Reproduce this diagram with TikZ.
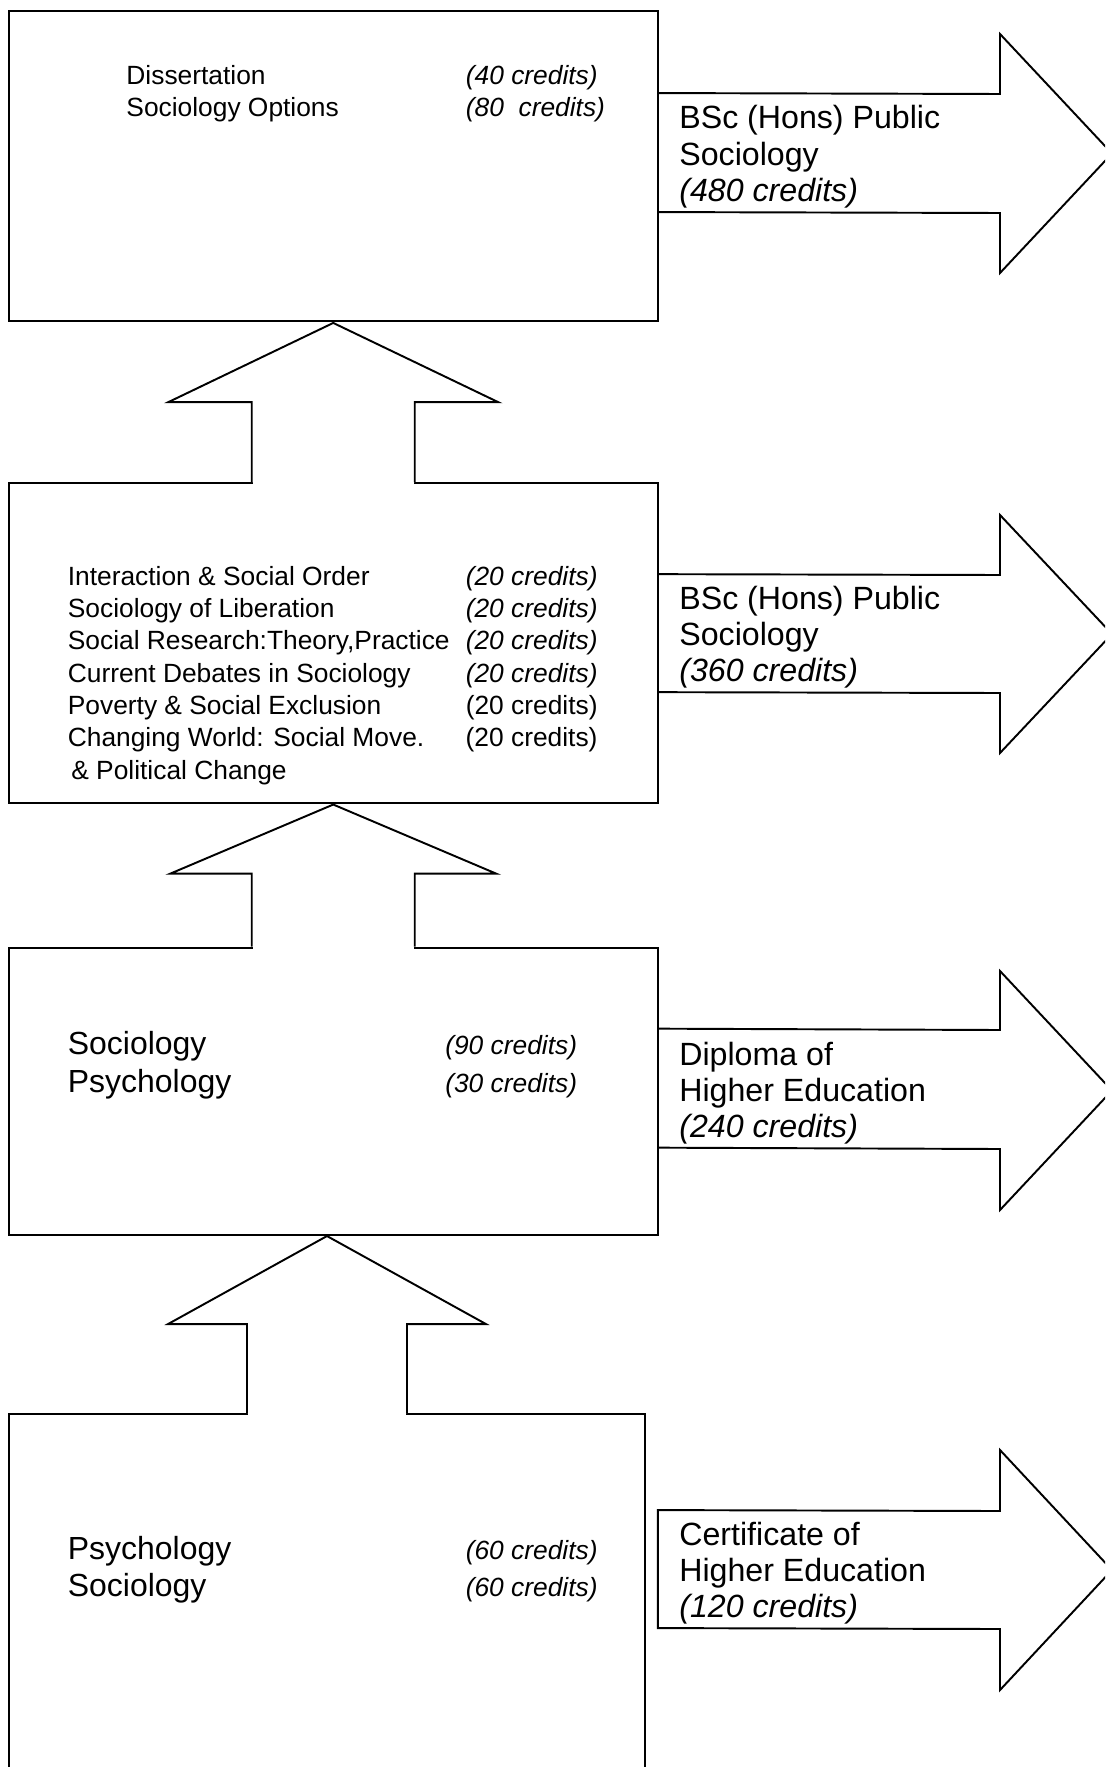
\documentclass[tikz,border=0pt]{standalone}
\usepackage{fontspec}
\setmainfont{Liberation Sans}
\usetikzlibrary{calc}

\newcommand{\credsz}{\fontsize{15}{18.4}\selectfont}

\begin{document}
\begin{tikzpicture}[x=0.02cm, y=-0.02cm]

    \tikzstyle{box}=[draw=black, line width=1.1pt, rectangle, inner sep=0pt];
    \tikzstyle{blk}=[draw=black, line width=1.1pt, line join=miter];
    \tikzstyle{uparr}=[blk, fill=white];
    \tikzstyle{txt}=[inner sep=0pt, anchor=base west, font=\fontsize{15}{18.4}\selectfont];
    \tikzstyle{bigtxt}=[inner sep=0pt, anchor=base west, font=\fontsize{18.2}{21.4}\selectfont];
    \tikzstyle{lbl}=[inner sep=0pt, anchor=base west, font=\fontsize{18.3}{20.7}\selectfont];

    \useasboundingbox (0,0) rectangle (1105,1767);
    \clip (0,0) rectangle (1105,1767);

    \node[box, minimum width=12.99cm, minimum height=6.2cm] (hons) at (333.25,166) {};
    \node[box, minimum width=12.99cm, minimum height=6.39cm] (ord) at (333.25,642.85) {};
    \node[box, minimum width=12.99cm, minimum height=5.75cm] (dip) at (333.25,1091.35) {};
    \node[box, minimum width=12.72cm, minimum height=7.72cm] (cert) at (327,1607) {};

    % arrows up, opening into the box below
    \fill[white] ($(ord.north)+(-80.5,-3)$) rectangle ($(ord.north)+(80.5,3)$);
    \fill[white] ($(dip.north)+(-80.5,-3)$) rectangle ($(dip.north)+(80.5,3)$);
    \fill[white] ($(cert.north)+(-79,-3)$) rectangle ($(cert.north)+(79,3)$);
    \draw[uparr] ($(ord.north)+(-81.5,0)$) -- ($(ord.north)+(-81.5,-80)$) -- ($(ord.north)+(-165,-80)$)
        -- ($(hons.south)+(0,1)$) -- ($(ord.north)+(165,-80)$) -- ($(ord.north)+(81.5,-80)$) -- ($(ord.north)+(81.5,0)$);
    \draw[uparr] ($(dip.north)+(-81.5,0)$) -- ($(dip.north)+(-81.5,-73)$) -- ($(dip.north)+(-163,-73)$)
        -- ($(ord.south)+(0,1)$) -- ($(dip.north)+(163,-73)$) -- ($(dip.north)+(81.5,-73)$) -- ($(dip.north)+(81.5,0)$);
    \draw[uparr] ($(cert.north)+(-80,0)$) -- ($(cert.north)+(-80,-89)$) -- ($(cert.north)+(-159,-89)$)
        -- (cert.north |- dip.south) -- ($(cert.north)+(159,-89)$) -- ($(cert.north)+(80,-89)$) -- ($(cert.north)+(80,0)$);

    % arrows right
    \draw[blk] ($(hons.north east)+(0,83)$) -- (1000,94) -- (1000,34) -- (1112,153.5) -- (1000,273) -- (1000,213) -- ($(hons.north east)+(0,202)$);
    \draw[blk] ($(ord.north east)+(0,92)$) -- (1000,575) -- (1000,515) -- (1112,634) -- (1000,753) -- (1000,693) -- ($(ord.north east)+(0,210)$);
    \draw[blk] ($(dip.north east)+(0,82)$) -- (1000,1030) -- (1000,971) -- (1112,1090.5) -- (1000,1210) -- (1000,1149) -- ($(dip.north east)+(0,201)$);
    \draw[blk] ($(cert.north east)+(12,97)$) -- (1000,1511) -- (1000,1450) -- (1112,1570) -- (1000,1690) -- (1000,1629) -- ($(cert.north east)+(12,215)$) -- cycle;

    \node[txt] (honsmods) at ($(hons.north west)+(118.5,74)$) {\begin{tabular}[t]{@{}p{6.79cm}@{}l@{}}
        Dissertation & \textit{(40 credits)}\\
        Sociology Options & \textit{(80\ \ credits)}
    \end{tabular}};
    \node[txt] (ordmods) at ($(ord.north west)+(59.9,103)$) {\begin{tabular}[t]{@{}p{7.96cm}@{}l@{}}
        Interaction \& Social Order & \textit{(20 credits)}\\
        Sociology of Liberation & \textit{(20 credits)}\\
        Social Research:Theory,Practice & \textit{(20 credits)}\\
        Current Debates in Sociology & \textit{(20 credits)}\\
        Poverty \& Social Exclusion & (20 credits)\\
        Changing World: Social Move. & (20 credits)\\
        \hspace{0.07cm}\& Political Change &
    \end{tabular}};
    \node[bigtxt] (dipmods) at ($(dip.north west)+(59.9,108.3)$) {\begin{tabular}[t]{@{}p{7.55cm}@{}l@{}}
        Sociology & {\credsz\textit{(90 credits)}}\\
        Psychology & {\credsz\textit{(30 credits)}}
    \end{tabular}};
    \node[bigtxt] (certmods) at ($(cert.north west)+(59.4,146)$) {\begin{tabular}[t]{@{}p{7.96cm}@{}l@{}}
        Psychology & {\credsz\textit{(60 credits)}}\\
        Sociology & {\credsz\textit{(60 credits)}}
    \end{tabular}};

    \node[lbl] (honsaward) at (679,129) {\begin{tabular}[t]{@{}l@{}}
        BSc (Hons) Public\\ Sociology\\ \textit{(480 credits)}
    \end{tabular}};
    \node[lbl] (ordaward) at (679,609) {\begin{tabular}[t]{@{}l@{}}
        BSc (Hons) Public\\ Sociology\\ \textit{(360 credits)}
    \end{tabular}};
    \node[lbl] (dipaward) at (679,1065) {\begin{tabular}[t]{@{}l@{}}
        Diploma of\\ Higher Education\\ \textit{(240 credits)}
    \end{tabular}};
    \node[lbl] (certaward) at (679,1545) {\begin{tabular}[t]{@{}l@{}}
        Certificate of\\ Higher Education\\ \textit{(120 credits)}
    \end{tabular}};

\end{tikzpicture}
\end{document}
